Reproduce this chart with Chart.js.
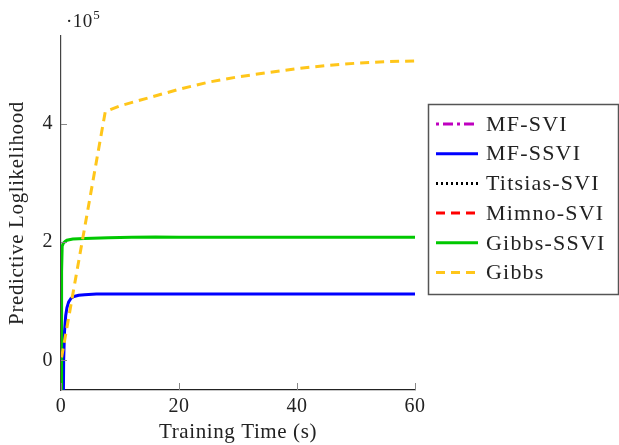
<!DOCTYPE html>
<html><head><meta charset="utf-8">
<script src="https://cdn.jsdelivr.net/npm/chart.js@4/dist/chart.umd.min.js"></script>
<style>html,body{margin:0;padding:0;background:#fff}#wrap{width:619px;height:445px;position:relative}</style>
</head><body><div id="wrap"><canvas id="c" width="619" height="445"></canvas></div>
<script>
// ---- data ----
const seriesNames = ["MF-SVI", "MF-SSVI", "Titsias-SVI", "Mimno-SVI", "Gibbs-SSVI", "Gibbs"];
const mfSviTime = [];
const mfSviValue = [];
const mfSsviTime  = [0.3, 0.45, 0.6, 0.8, 1.0, 1.3, 1.7, 2.2, 3, 4, 6, 10, 20, 30, 40, 50, 60];
const mfSsviValue = [-200000, 0, 50000, 76000, 89000, 99000, 105000, 108000, 110000, 111000, 112000, 112000, 112000, 112000, 112000, 112000, 112000];
const titsiasTime = [];
const titsiasValue = [];
const mimnoTime = [];
const mimnoValue = [];
const gibbsSsviTime  = [0.0, 0.1, 0.2, 0.4, 0.7, 1.0, 2, 4, 8, 12, 16, 20, 30, 40, 50, 60];
const gibbsSsviValue = [-200000, 150000, 193000, 198000, 201000, 203000, 205000, 206000, 207000, 208000, 208500, 208000, 208000, 208000, 208000, 208000];
const gibbsTime  = [0.1, 7.5, 10, 15, 20, 25, 30, 35, 40, 45, 50, 55, 60];
const gibbsValue = [5000, 420000, 430000, 444000, 458000, 470000, 479000, 486000, 493000, 498000, 502000, 504500, 506000];
const xTicks = [0, 20, 40, 60];
const yTicks = [0, 200000, 400000];

const pts = (t, v) => t.map((x, i) => ({x: x, y: v[i]}));
const serif = "'Liberation Serif', 'Times New Roman', serif";

const styles = [
  {color: '#BF00BF', dash: [3, 4, 10, 4]},
  {color: '#0000FF', dash: []},
  {color: '#000000', dash: [2, 3]},
  {color: '#FF0000', dash: [9, 6]},
  {color: '#00C800', dash: []},
  {color: '#FFC61A', dash: [9, 6]}
];
const seriesData = [
  pts(mfSviTime, mfSviValue), pts(mfSsviTime, mfSsviValue), pts(titsiasTime, titsiasValue),
  pts(mimnoTime, mimnoValue), pts(gibbsSsviTime, gibbsSsviValue), pts(gibbsTime, gibbsValue)
];

const decor = {
  id: 'decor',
  beforeDraw(chart) {
    if ('letterSpacing' in chart.ctx) chart.ctx.letterSpacing = '0.6px';
  },
  afterDraw(chart) {
    const ctx = chart.ctx, xs = chart.scales.x, ys = chart.scales.y, a = chart.chartArea;
    ctx.save();
    // inner ticks
    ctx.strokeStyle = '#888'; ctx.lineWidth = 1;
    xTicks.forEach(v => { const p = Math.round(xs.getPixelForValue(v)) + 0.5;
      ctx.beginPath(); ctx.moveTo(p, a.bottom); ctx.lineTo(p, a.bottom - 7); ctx.stroke(); });
    yTicks.forEach(v => { const p = Math.round(ys.getPixelForValue(v)) + 0.5;
      ctx.beginPath(); ctx.moveTo(a.left, p); ctx.lineTo(a.left + 6, p); ctx.stroke(); });
    // exponent label
    if ('letterSpacing' in ctx) ctx.letterSpacing = '0.5px';
    ctx.fillStyle = '#222'; ctx.textBaseline = 'alphabetic'; ctx.textAlign = 'left';
    ctx.font = '19px ' + serif; ctx.fillText('\u00B710', 66, 27);
    const w = ctx.measureText('\u00B710').width;
    ctx.font = '13px ' + serif; ctx.fillText('5', 66 + w + 0.5, 19);
    // legend
    const lx = 428, ly = 104, lw = 190, lh = 190;
    ctx.strokeStyle = '#555'; ctx.lineWidth = 1.5;
    ctx.strokeRect(lx + 0.5, ly + 0.5, lw, lh);
    if ('letterSpacing' in ctx) ctx.letterSpacing = '1.2px';
    chart.data.datasets.forEach((ds, i) => {
      const cy = 124 + i * 29.7;
      ctx.strokeStyle = ds.borderColor; ctx.lineWidth = 3; ctx.setLineDash(ds.borderDash || []);
      ctx.beginPath(); ctx.moveTo(436, cy); ctx.lineTo(478, cy); ctx.stroke();
      ctx.setLineDash([]);
      ctx.fillStyle = '#222'; ctx.font = '22px ' + serif; ctx.textBaseline = 'middle';
      ctx.fillText(ds.label, 486, cy + 1);
    });
    ctx.restore();
  }
};

new Chart(document.getElementById('c'), {
  type: 'line',
  data: {
    datasets: seriesNames.map((n, i) => ({
      label: n, data: seriesData[i], borderColor: styles[i].color, backgroundColor: styles[i].color,
      borderDash: styles[i].dash, borderWidth: 3, pointRadius: 0, tension: 0, fill: false,
      order: 6 - i
    }))
  },
  options: {
    responsive: false, animation: false, maintainAspectRatio: false,
    layout: {padding: {left: 0, top: 36, right: 204, bottom: 0}},
    plugins: {legend: {display: false}, tooltip: {enabled: false}},
    scales: {
      x: {
        type: 'linear', min: 0, max: 60,
        afterFit: s => { s.height = 55; },
        afterBuildTicks: s => { s.ticks = xTicks.map(v => ({value: v})); },
        grid: {display: false, drawTicks: false},
        border: {display: true, color: '#222', width: 1.2},
        ticks: {padding: 5, color: '#222', font: {family: serif, size: 20}, maxRotation: 0},
        title: {display: true, text: 'Training Time (s)', color: '#222', font: {family: serif, size: 21}, padding: {top: 0, bottom: 0}}
      },
      y: {
        type: 'linear', min: -50000, max: 548000,
        afterFit: s => { s.width = 61; },
        afterBuildTicks: s => { s.ticks = yTicks.map(v => ({value: v})); },
        grid: {display: false, drawTicks: false},
        border: {display: true, color: '#444', width: 1.2},
        ticks: {padding: 8, color: '#222', font: {family: serif, size: 20}, callback: v => String(v / 100000)},
        title: {display: true, text: 'Predictive Loglikelihood', color: '#222', font: {family: serif, size: 21}, padding: {top: 5, bottom: 0}}
      }
    }
  },
  plugins: [decor]
});
</script></body></html>
